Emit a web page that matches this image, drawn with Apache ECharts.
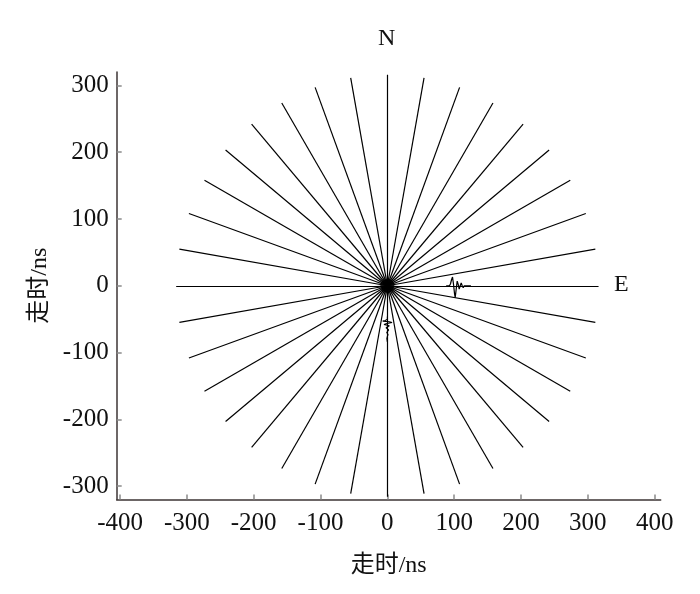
<!DOCTYPE html>
<html>
<head>
<meta charset="utf-8">
<script src="https://cdn.jsdelivr.net/npm/echarts@6/dist/echarts.min.js"></script>
<style>html,body{margin:0;padding:0;background:#fff}#c{width:700px;height:594px}</style>
</head>
<body>
<div id="c"></div>
<script>
// ---- data ----
const rayAngles = [0,10,20,30,40,50,60,70,80,90,100,110,120,130,140,150,160,170,180,190,200,210,220,230,240,250,260,270,280,290,300,310,320,330,340,350];
const rayLength = 316;
const xTicks = [-400,-300,-200,-100,0,100,200,300,400];
const yTicks = [-300,-200,-100,0,100,200,300];
const traceE = [[88,0],[93,0],[94.5,3],[96,9],[97.5,13],[99,2],[100.5,-12],[101.5,-18],[103,-5],[104.5,7],[106,2],[107.5,-5],[109,0],[110.5,4],[112,0],[113.5,-3],[115,0],[116.5,1.5],[118,0],[125,0]];
const traceS = [[0,-46],[0,-50],[-3,-52],[-7,-53],[3,-54],[7,-55],[-2,-57],[-5,-58],[3,-60],[4,-61],[-2,-63],[-3,-64],[2,-66],[1,-68],[-1,-70],[1,-73],[0,-76],[-0.8,-79],[0,-84]];
const origin = [[0,0]];
const directionLabels = ['N','E'];
const axisTitle = '走时/ns';

const serif = '"Liberation Serif","Times New Roman","Noto Sans CJK SC",serif';
const rays = rayAngles.map(a => {
  const t = a * Math.PI / 180;
  return {coords: [[0,0],[rayLength*Math.cos(t), rayLength*Math.sin(t)]]};
});

const chart = echarts.init(document.getElementById('c'), null, {renderer:'canvas'});
chart.setOption({
  animation: false,
  backgroundColor: '#fff',
  grid: {left: 116.7, right: 39.3, top: 72, bottom: 94.5, containLabel: false},
  xAxis: {
    type: 'value', min: -405, max: 409,
    splitLine: {show: false},
    axisLine: {show: true, onZero: false, lineStyle: {color: '#3d3535', width: 1.5}},
    axisTick: {show: true, inside: true, length: 5, customValues: xTicks, lineStyle: {color: '#8a8a8a', width: 1.5}},
    axisLabel: {customValues: xTicks, fontFamily: serif, fontSize: 25, color: '#111', margin: 11},
    name: axisTitle, nameLocation: 'middle', nameGap: 54,
    nameTextStyle: {fontFamily: serif, fontSize: 24, color: '#111'}
  },
  yAxis: {
    type: 'value', min: -320, max: 320,
    splitLine: {show: false},
    axisLine: {show: true, onZero: false, lineStyle: {color: '#3d3535', width: 1.5}},
    axisTick: {show: true, inside: true, length: 5, customValues: yTicks, lineStyle: {color: '#8a8a8a', width: 1.5}},
    axisLabel: {customValues: yTicks, fontFamily: serif, fontSize: 25, color: '#111', margin: 8},
    name: axisTitle, nameLocation: 'middle', nameGap: 63, nameRotate: 90,
    nameTextStyle: {fontFamily: serif, fontSize: 24, color: '#111'}
  },
  graphic: [
    {type: 'text', left: 378, top: 27, style: {text: directionLabels[0], font: '24px ' + serif, fill: '#111'}},
    {type: 'text', left: 614, top: 273, style: {text: directionLabels[1], font: '24px ' + serif, fill: '#111'}}
  ],
  series: [
    {type: 'lines', coordinateSystem: 'cartesian2d', polyline: false, silent: true,
     lineStyle: {color: '#000', width: 1.2, opacity: 1}, data: rays, z: 2},
    {type: 'line', data: traceE, showSymbol: false, lineStyle: {color: '#000', width: 1.2}, z: 3, silent: true},
    {type: 'line', data: traceS, showSymbol: false, lineStyle: {color: '#000', width: 1.1}, z: 3, silent: true},
    {type: 'scatter', data: origin, symbolSize: 14, itemStyle: {color: '#000', shadowBlur: 5, shadowColor: 'rgba(0,0,0,0.8)'}, z: 4, silent: true}
  ]
});
</script>
</body>
</html>
